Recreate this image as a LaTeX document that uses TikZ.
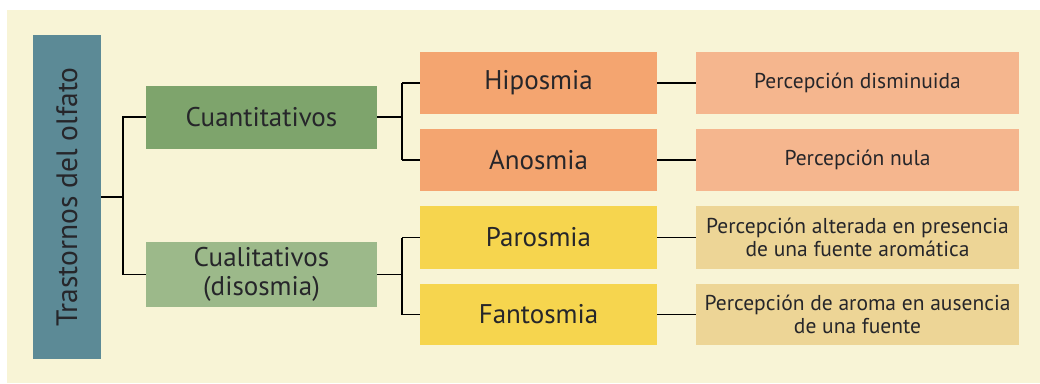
\documentclass[tikz,border=0pt]{standalone}
\usepackage{fontspec}
\setmainfont{PT Sans}
\usepackage{tikz}
\usetikzlibrary{calc, positioning}
\usepackage{xcolor}
\definecolor{fondo}{RGB}{248, 244, 214}
\definecolor{raiz}{RGB}{92, 138, 150}
\definecolor{cuanti}{RGB}{126, 164, 108}
\definecolor{cuali}{RGB}{156, 185, 138}
\definecolor{naranja}{RGB}{244, 165, 112}
\definecolor{naranjaC}{RGB}{245, 182, 142}
\definecolor{amarillo}{RGB}{246, 213, 78}
\definecolor{amarilloC}{RGB}{237, 213, 150}
\definecolor{texto}{RGB}{38, 38, 42}

\tikzset{
  caja/.style={inner sep=2pt, align=center, text=texto},
  grupo/.style={caja, minimum width=231pt, minimum height=63pt, font=\fontsize{27}{29}\selectfont},
  tipo/.style={caja, minimum width=237pt, minimum height=62pt, font=\fontsize{27}{29}\selectfont},
  desc/.style={caja, minimum width=323pt, minimum height=62pt, font=\fontsize{21.5}{23}\selectfont},
  rama/.style={line width=1.6pt, black}
}

\begin{document}
\begin{tikzpicture}[x=1pt, y=-1pt]
  % fondo
  \useasboundingbox (0,0) rectangle (1040,383);
  \fill[white] (0,0) rectangle (1040,383);
  \fill[fondo] (7,10) rectangle (1040,383);
  % nivel 0
  \node[caja, fill=raiz, rotate=90, minimum width=324pt, minimum height=68pt,
        font=\fontsize{29.5}{32}\selectfont] (trast) at (67,197) {Trastornos del olfato};
  % nivel 1
  \node[grupo, fill=cuanti] (cuant) at (261.5,117) {Cuantitativos};
  \node[grupo, fill=cuali, minimum height=65pt] (cual) at (261.5,274.5) {Cualitativos\\(disosmia)};
  % nivel 2
  \node[tipo, fill=naranja] (hipo) at (538.5,83) {Hiposmia};
  \node[tipo, fill=naranja] (anos) at (538.5,160) {Anosmia};
  \node[tipo, fill=amarillo, minimum height=63pt] (paros) at (538.5,237.5) {Parosmia};
  \node[tipo, fill=amarillo, minimum height=61pt] (fantos) at (538.5,314.5) {Fantosmia};
  % nivel 3
  \node[desc, fill=naranjaC] (dhipo) at (857.5,83) {Percepción disminuida};
  \node[desc, fill=naranjaC] (danos) at (857.5,160) {Percepción nula};
  \node[desc, fill=amarilloC, minimum height=63pt] (dparos) at (857.5,237.5)
    {Percepción alterada en presencia\\de una fuente aromática};
  \node[desc, fill=amarilloC, minimum height=61pt] (dfantos) at (857.5,314.5)
    {Percepción de aroma en ausencia\\de una fuente};
  % ramas
  \coordinate (j0) at (123,197);
  \coordinate (j1) at (402,121);
  \coordinate (j2) at (402,276);
  \draw[rama] (trast.south) -- (j0);
  \draw[rama] (j0) |- (cuant.west);
  \draw[rama] (j0) |- (cual.west);
  \draw[rama] (cuant.east) -- (cuant.east -| j1);
  \draw[rama] (j1 |- hipo.west) -- (j1 |- anos.west);
  \draw[rama] (j1 |- hipo.west) -- (hipo.west);
  \draw[rama] (j1 |- anos.west) -- (anos.west);
  \draw[rama] (cual.east) -- (cual.east -| j2);
  \draw[rama] (j2 |- paros.west) -- (j2 |- fantos.west);
  \draw[rama] (j2 |- paros.west) -- (paros.west);
  \draw[rama] (j2 |- fantos.west) -- (fantos.west);
  \foreach \a/\b in {hipo/dhipo, anos/danos, paros/dparos, fantos/dfantos}
    \draw[rama] (\a.east) -- (\b.west);
\end{tikzpicture}
\end{document}
